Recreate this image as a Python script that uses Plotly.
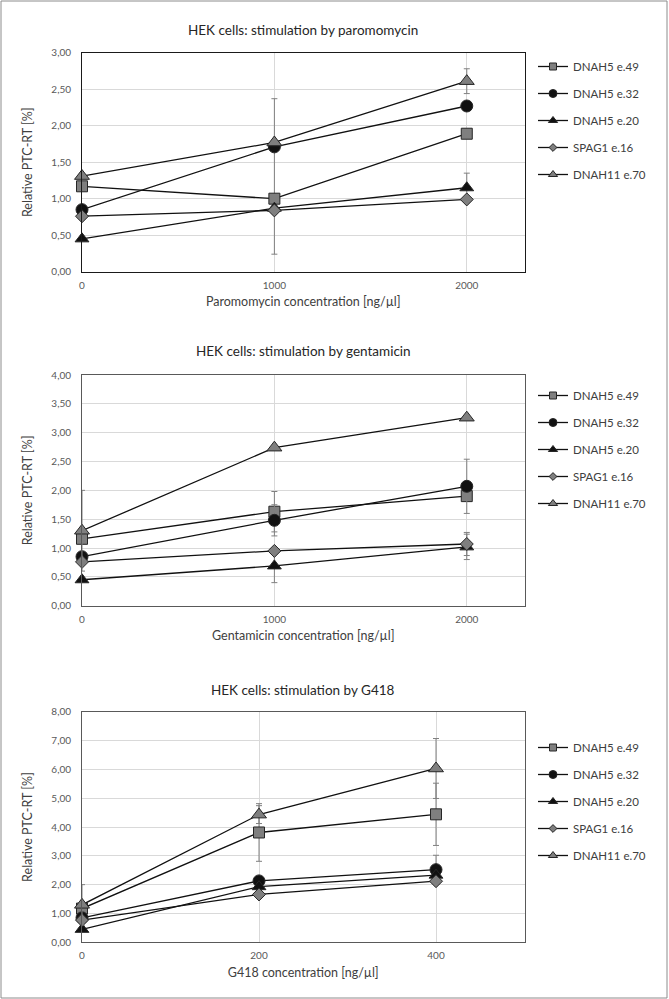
import plotly.graph_objects as go

# ---------------- data ----------------
series_names = ["DNAH5 e.49", "DNAH5 e.32", "DNAH5 e.20", "SPAG1 e.16", "DNAH11 e.70"]

# Panel 1: paromomycin
paro_x = [0, 1000, 2000]
paro_e49 = [1.17, 1.00, 1.89]
paro_e32 = [0.85, 1.71, 2.27]
paro_e20 = [0.45, 0.87, 1.15]
paro_spag1 = [0.76, 0.84, 0.99]
paro_dnah11 = [1.31, 1.77, 2.61]
paro_err_plus = [[0, 1.37, 0], [0, 0, 0], [0, 0, 0.20], [0, 0, 0], [0, 0, 0.17]]
paro_err_minus = [[0, 0.76, 0], [0, 0, 0], [0, 0, 0.20], [0, 0, 0], [0, 0, 0.17]]

# Panel 2: gentamicin
gent_x = [0, 1000, 2000]
gent_e49 = [1.16, 1.63, 1.90]
gent_e32 = [0.85, 1.48, 2.07]
gent_e20 = [0.45, 0.69, 1.02]
gent_spag1 = [0.76, 0.95, 1.07]
gent_dnah11 = [1.30, 2.74, 3.26]
gent_err_plus = [[0, 0.35, 0], [0, 0.27, 0.47], [0, 0.29, 0.22], [0, 0, 0.20], [0.70, 0, 0]]
gent_err_minus = [[0, 0.35, 0], [0, 0.27, 0.47], [0, 0.29, 0.22], [0, 0, 0.20], [0.70, 0, 0]]

# Panel 3: G418
g418_x = [0, 200, 400]
g418_e49 = [1.17, 3.81, 4.44]
g418_e32 = [0.85, 2.13, 2.52]
g418_e20 = [0.45, 1.93, 2.33]
g418_spag1 = [0.77, 1.66, 2.12]
g418_dnah11 = [1.30, 4.43, 6.03]
g418_err_plus = [[0, 1.00, 1.08], [0, 0, 0.50], [0, 0, 0], [0, 0, 0], [0.70, 0.31, 1.04]]
g418_err_minus = [[0, 1.00, 1.08], [0, 0, 0.50], [0, 0, 0], [0, 0, 0], [0.70, 0.31, 1.04]]

panel_titles = ["HEK cells: stimulation by paromomycin",
                "HEK cells: stimulation by gentamicin",
                "HEK cells: stimulation by G418"]
x_titles = ["Paromomycin concentration [ng/µl]",
            "Gentamicin concentration [ng/µl]",
            "G418 concentration [ng/µl]"]
y_title = "Relative PTC-RT [%]"

# ---------------- styles ----------------
W, H = 669, 999
FONT = "Lato, 'Open Sans', sans-serif"
marker_symbols = ["square", "circle", "triangle-up", "diamond", "triangle-up"]
marker_fills = ["#7f7f7f", "#111111", "#111111", "#7f7f7f", "#7f7f7f"]
marker_sizes = [11, 12, 12, 10, 13]
legend_marker_sizes = [7, 8, 8, 6, 8]

panels = [
    (paro_x, [paro_e49, paro_e32, paro_e20, paro_spag1, paro_dnah11], paro_err_plus, paro_err_minus),
    (gent_x, [gent_e49, gent_e32, gent_e20, gent_spag1, gent_dnah11], gent_err_plus, gent_err_minus),
    (g418_x, [g418_e49, g418_e32, g418_e20, g418_spag1, g418_dnah11], g418_err_plus, g418_err_minus),
]

# pixel geometry (top, bottom) of each plot area
plot_px = [(52.7, 271.7), (375.0, 605.7), (711.7, 942.3)]
x_left, x_right = 82.0, 524.5
x_ranges = [[0, 2300], [0, 2300], [0, 500]]
x_dticks = [1000, 1000, 200]
y_ranges = [[0, 3], [0, 4], [0, 8]]
y_dticks = [0.5, 0.5, 1]
frame_colors = ["#1a1a1a", "#595959", "#595959"]
title_y_px = [30, 351, 690]
legend_top_px = [52, 381, 733]

fig = go.Figure()
for p, (xs, ys_list, eplus, eminus) in enumerate(panels):
    sfx = "" if p == 0 else str(p + 1)
    for i, name in enumerate(series_names):
        fig.add_trace(go.Scatter(
            x=xs, y=ys_list[i], name=name, mode="lines+markers",
            xaxis="x" + sfx, yaxis="y" + sfx, showlegend=False,
            line=dict(color="#111111", width=1.3),
            marker=dict(symbol=marker_symbols[i], size=marker_sizes[i],
                        color=marker_fills[i], line=dict(color="#262626", width=1)),
            error_y=dict(type="data", symmetric=False, array=eplus[i], arrayminus=eminus[i],
                         color="#808080", thickness=1, width=3),
            cliponaxis=False,
        ))
    # legend-only entries with smaller symbols (as in the reference legend)
    for i, name in enumerate(series_names):
        fig.add_trace(go.Scatter(
            x=[None], y=[None], name=name, mode="lines+markers",
            xaxis="x" + sfx, yaxis="y" + sfx,
            legend="legend" + sfx, legendgroup=f"g{p}_{i}",
            line=dict(color="#111111", width=1.3),
            marker=dict(symbol=marker_symbols[i], size=legend_marker_sizes[i],
                        color=marker_fills[i], line=dict(color="#262626", width=1)),
        ))

layout = dict(
    width=W, height=H, margin=dict(l=0, r=0, t=0, b=0, autoexpand=False),
    paper_bgcolor="white", plot_bgcolor="white",
    separators=",.", font=dict(family=FONT, color="#404040"),
    showlegend=True,
)
dom_x = [x_left / W, x_right / W]
annotations = []
for p in range(3):
    sfx = "" if p == 0 else str(p + 1)
    top, bot = plot_px[p]
    dom_y = [1 - bot / H, 1 - top / H]
    layout["xaxis" + sfx] = dict(
        domain=dom_x, anchor="y" + sfx, range=x_ranges[p], dtick=x_dticks[p], tick0=0,
        automargin=False,
        showgrid=True, gridcolor="#d9d9d9", gridwidth=1, zeroline=False,
        showline=True, linecolor=frame_colors[p], linewidth=1, mirror=True,
        ticks="", tickfont=dict(size=10, color="#595959"), ticklabelstandoff=4,
        title=dict(text=x_titles[p], font=dict(size=12.5, color="#404040"), standoff=7),
    )
    layout["yaxis" + sfx] = dict(
        domain=dom_y, anchor="x" + sfx, range=y_ranges[p], dtick=y_dticks[p], tick0=0,
        automargin=False,
        tickformat=".2f", showgrid=True, gridcolor="#d9d9d9", gridwidth=1, zeroline=False,
        showline=True, linecolor=frame_colors[p], linewidth=1, mirror=True,
        ticks="", tickfont=dict(size=10, color="#595959"), ticklabelstandoff=8,
        title=dict(text=y_title, font=dict(size=12.5, color="#404040"), standoff=15),
    )
    layout["legend" + sfx] = dict(
        x=533 / W, xanchor="left", y=1 - legend_top_px[p] / H, yanchor="top",
        font=dict(size=11.5, color="#404040"), itemwidth=30,
        traceorder="grouped", tracegroupgap=8, bgcolor="rgba(0,0,0,0)",
    )
    annotations.append(dict(
        text=panel_titles[p], xref="paper", yref="paper",
        x=(x_left + x_right) / 2 / W, y=1 - title_y_px[p] / H,
        xanchor="center", yanchor="middle", showarrow=False,
        font=dict(size=13.5, color="#262626"),
    ))
layout["annotations"] = annotations
layout["shapes"] = [dict(type="rect", xref="paper", yref="paper",
                         x0=1 / W, x1=667 / W, y0=1 / H, y1=1 - 1 / H,
                         line=dict(color="#8c8c8c", width=1))]
fig.update_layout(**layout)
fig.write_html("out.html", config={"displayModeBar": False},
               post_script="document.body.style.margin='0';")
